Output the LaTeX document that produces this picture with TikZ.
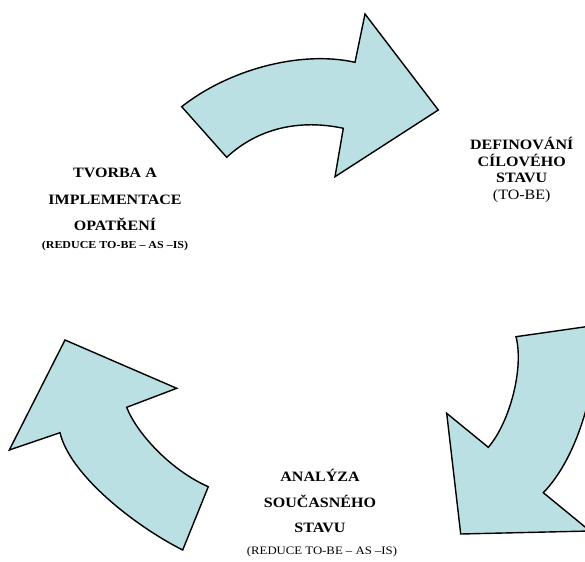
\documentclass[tikz,border=0pt]{standalone}
\usepackage{fontspec}
\setmainfont{Liberation Serif}[FakeStretch=1.12]
\definecolor{arrowfill}{HTML}{BAE0E3}
\tikzset{
  cyclearrow/.style={draw=black, fill=arrowfill, line width=1.4pt, line join=miter},
  bigtxt/.style={anchor=base, inner sep=0pt, font=\fontsize{14.3}{16}\selectfont\bfseries},
  bigreg/.style={anchor=base, inner sep=0pt, font=\fontsize{14.3}{16}\selectfont},
  smalltxt/.style={anchor=base, inner sep=0pt, font=\fontsize{10.7}{12}\selectfont\bfseries},
  smallreg/.style={anchor=base, inner sep=0pt, font=\fontsize{11.4}{12}\selectfont}
}
\begin{document}
\begin{tikzpicture}[x=1pt,y=-1pt]
\useasboundingbox (0,0) rectangle (585,561);
\begin{scope}
\clip (0,0) rectangle (585,561);
% top arrow
\draw[cyclearrow] (181.7,106.7)
  .. controls (228,70) and (300,50) .. (355,62.3)
  -- (365,14) -- (438.3,110) -- (335,176.7) -- (343.3,128.3)
  .. controls (300,119) and (258,128) .. (226.7,157.3)
  -- cycle;
% left arrow
\draw[cyclearrow] (65,340) -- (176.7,388.3) -- (126.7,407.3)
  .. controls (136,432) and (170,470) .. (208.3,486.7)
  -- (182.7,550)
  .. controls (135,526) and (70,475) .. (60,432.7)
  -- (9.3,450) -- cycle;
% right arrow
\draw[cyclearrow] (516,336.7) -- (598,325)
  .. controls (598,380) and (580,455) .. (543.3,492.7)
  -- (590,531) -- (460.7,534) -- (446.7,413.3) -- (488.3,447.3)
  .. controls (510,422) and (524,368) .. (516,336.7)
  -- cycle;
\end{scope}
% left text
\node[bigtxt] (l1) at (115,177.7) {TVORBA A};
\node[bigtxt] (l2) at (115,204.3) {IMPLEMENTACE};
\node[bigtxt] (l3) at (115,230) {OPATŘENÍ};
\node[smalltxt] (l4) at (115,248.3) {(REDUCE TO-BE – AS –IS)};
% right text
\node[bigtxt] (r1) at (521.7,149.3) {DEFINOVÁNÍ};
\node[bigtxt] (r2) at (521.7,166.7) {CÍLOVÉHO};
\node[bigtxt] (r3) at (521.7,182.7) {STAVU};
\node[bigreg] (r4) at (521.7,199.3) {(TO-BE)};
% bottom text
\node[bigtxt] (b1) at (320,481.7) {ANALÝZA};
\node[bigtxt] (b2) at (320,507.7) {SOUČASNÉHO};
\node[bigtxt] (b3) at (320,532.7) {STAVU};
\node[smallreg] (b4) at (322,554) {(REDUCE TO-BE – AS –IS)};
\end{tikzpicture}
\end{document}
